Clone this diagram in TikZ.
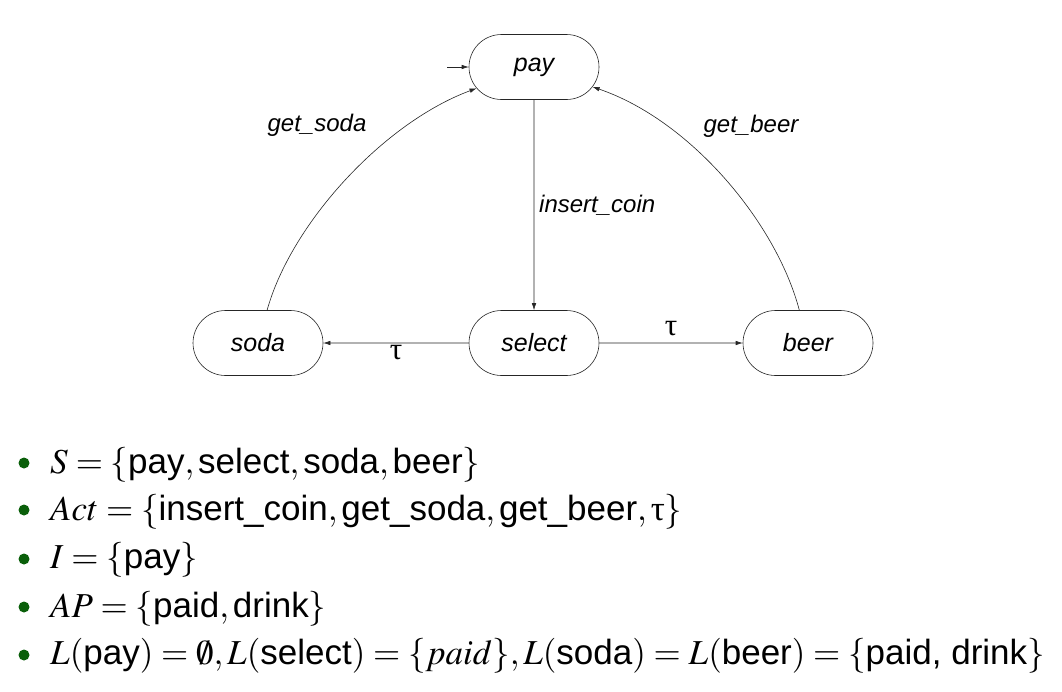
\documentclass[tikz,border=0pt]{standalone}
\usepackage{mathptmx}
\usepackage[no-math]{fontspec}
\setsansfont{Liberation Sans}
\newfontfamily\grkfont{Liberation Serif}
\usetikzlibrary{shapes.misc,arrows.meta}
\definecolor{bulletgreen}{RGB}{10,95,10}
\newcommand{\sft}[1]{\mbox{\sffamily #1}}
\newcommand{\uptauchar}{\mbox{\grkfont τ}}
\tikzset{
  stbox/.style={rounded rectangle, draw=black!85, line width=0.6pt,
    minimum width=130pt, minimum height=65pt, inner sep=0pt,
    font=\sffamily\itshape\fontsize{25}{29}\selectfont},
  arr/.style={-{Latex[length=7pt,width=4.5pt]}, line width=0.6pt, draw=black!85},
  elab/.style={font=\sffamily\itshape\fontsize{24}{28}\selectfont, inner sep=0pt},
  tlab/.style={font=\grkfont\fontsize{31}{34}\selectfont, inner sep=0pt},
  bdot/.style={circle, fill=bulletgreen, inner sep=0pt, minimum size=11pt},
  btext/.style={anchor=base west, inner sep=0pt, font=\fontsize{35}{41}\selectfont}
}
\begin{document}
\begin{tikzpicture}[x=1pt,y=-1pt]
\useasboundingbox (0,0) rectangle (1062,691);
% states
\node[stbox] (pay) at (534,67) {pay};
\node[stbox] (sel) at (534,343) {select};
\node[stbox] (soda) at (258,343) {soda};
\node[stbox] (beer) at (808,343) {beer};
\coordinate (init) at (447,67);
% transitions
\draw[arr] (init) -- (pay);
\draw[arr] (pay) -- (sel);
\draw[arr] (sel) -- (soda);
\draw[arr] (sel) -- (beer);
\draw[arr] (soda) .. controls (291,224) and (383,123) .. (pay);
\draw[arr] (beer) .. controls (776,222) and (690,120) .. (pay);
% labels
\node[elab] (lsoda) at (317,125) {get\_soda};
\node[elab] (lbeer) at (751,126) {get\_beer};
\node[elab, anchor=west] (lcoin) at (539,205) {insert\_coin};
\node[tlab] (t1) at (396,353) {τ};
\node[tlab] (t2) at (671,329) {τ};
% bullets
\node[bdot] (b1) at (24,463) {};
\node[bdot] (b2) at (24,510) {};
\node[bdot] (b3) at (24,559) {};
\node[bdot] (b4) at (24,607) {};
\node[bdot] (b5) at (24,655) {};
\node[btext] (s1) at (50,473) {$S=\{\sft{pay},\sft{select},\sft{soda},\sft{beer}\}$};
\node[btext] (s2) at (50,520) {$Act=\{\sft{insert\_coin},\sft{get\_soda},\sft{get\_beer},\uptauchar\}$};
\node[btext] (s3) at (50,568) {$I=\{\sft{pay}\}$};
\node[btext] (s4) at (50,617) {$AP=\{\sft{paid},\sft{drink}\}$};
\node[btext] (s5) at (50,664) {$L(\sft{pay})=\emptyset,L(\sft{select})=\{paid\},L(\sft{soda})=L(\sft{beer})=\{\sft{paid, drink}\}$};
\end{tikzpicture}
\end{document}
